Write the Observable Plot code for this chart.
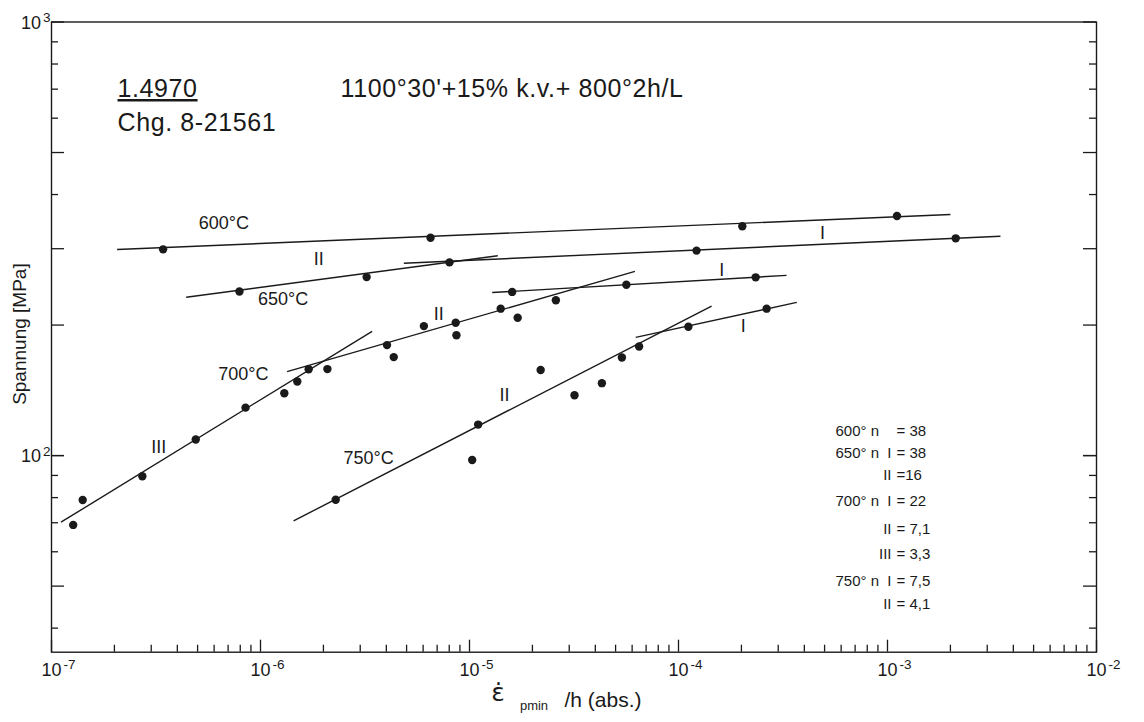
<!DOCTYPE html>
<html><head><meta charset="utf-8">
<script src="https://cdn.jsdelivr.net/npm/d3@7"></script>
<script src="https://cdn.jsdelivr.net/npm/@observablehq/plot@0.6"></script>
<style>body{margin:0;background:#fff;} #chart svg{display:block;}</style>
</head><body><div id="chart"></div>
<script>
// ---- measured creep data (strain rate 1/h, stress MPa) ----
const t600x = [3.42e-7, 6.51e-6, 2.02e-4, 1.11e-3];
const t600y = [299, 318, 338, 357];
const t650x = [7.93e-7, 3.22e-6, 8.02e-6, 1.22e-4, 2.12e-3];
const t650y = [239, 258, 279, 297, 317];
const t700x = [1.27e-7, 1.41e-7, 2.72e-7, 4.90e-7, 8.48e-7, 1.30e-6, 1.50e-6, 1.70e-6, 2.09e-6, 4.03e-6, 4.34e-6, 6.05e-6, 8.59e-6, 8.66e-6, 1.41e-5, 1.70e-5, 2.59e-5, 1.60e-5, 5.63e-5, 2.34e-4];
const t700y = [69.2, 79.0, 89.6, 108.9, 129.0, 139.2, 148.2, 158.2, 158.3, 179.8, 168.7, 198.9, 202.4, 189.5, 218.2, 207.9, 228.2, 238.5, 247.7, 257.7];
const t750x = [2.29e-6, 1.03e-5, 1.10e-5, 2.19e-5, 3.18e-5, 4.30e-5, 5.36e-5, 6.48e-5, 1.115e-4, 2.64e-4];
const t750y = [79.1, 97.7, 117.9, 157.6, 137.8, 146.9, 168.3, 178.5, 198.2, 218.2];

// ---- fitted Norton lines (end points) ----
const fitName = ["600 n", "650 II", "650 I", "700 III", "700 II", "700 I", "750 II", "750 I"];
const fitX1 = [2.06e-7, 4.41e-7, 4.85e-6, 1.11e-7, 1.34e-6, 1.284e-5, 1.44e-6, 6.24e-5];
const fitY1 = [298.7, 231.8, 277.7, 70.2, 156.2, 237.7, 70.7, 187.4];
const fitX2 = [2.0e-3, 1.366e-5, 3.47e-3, 3.42e-6, 6.19e-5, 3.29e-4, 1.44e-4, 3.68e-4];
const fitY2 = [359.7, 288.9, 320.6, 193.5, 266.0, 260.4, 221.3, 225.6];

// ---- curve annotations ----
const curveText = ["600°C", "II", "650°C", "I", "II", "700°C", "III", "I", "750°C", "II", "I"];
const curveX = [6.68e-7, 1.90e-6, 1.284e-6, 4.89e-4, 7.13e-6, 8.27e-7, 3.26e-7, 1.61e-4, 3.29e-6, 1.47e-5, 2.04e-4];
const curveY = [343.5, 284.2, 229.9, 325.2, 211.5, 153.8, 104.5, 267.2, 98.6, 137.8, 198.8];

// ---- Norton exponent table ----
const legendTemp = ["600° n", "650° n", "", "700° n", "", "", "750° n", ""];
const legendStage = ["", "I", "II", "I", "II", "III", "I", "II"];
const legendN = ["= 38", "= 38", "=16", "= 22", "= 7,1", "= 3,3", "= 7,5", "= 4,1"];
const legendRowY = [113.8, 101.2, 90.3, 78.5, 67.7, 59.1, 51.3, 45.5];
const legendColX = [5.64e-4, 1.045e-3, 1.104e-3];

// ---- axes & titles ----
const xDecades = [1e-7, 1e-6, 1e-5, 1e-4, 1e-3, 1e-2];
const xTickLabels = ["10^-7", "10^-6", "10^-5", "10^-4", "10^-3", "10^-2"];
const yDecades = [100, 1000];
const yTickLabels = ["10^2", "10^3"];
const titleMaterial = "1.4970";
const titleCharge = "Chg. 8-21561";
const titleTreatment = "1100°30'+15% k.v.+ 800°2h/L";
const yLabel = "Spannung [MPa]";

// tick generation for log axes
const xMinor = [];
for (let e = -7; e < -2; e++) for (let m = 2; m <= 9; m++) xMinor.push(m * 10 ** e);
const yMinor = [], yLong = [];
for (const dec of [10, 100]) for (let m = 1; m <= 10; m++) {
  const v = m * dec;
  if (v < 35.2 || v > 1000) continue;
  if ([1, 2, 3, 5, 10].includes(m)) yLong.push(v); else yMinor.push(v);
}

const points = [
  ...t600x.map((x, i) => ({x, y: t600y[i], T: "600"})),
  ...t650x.map((x, i) => ({x, y: t650y[i], T: "650"})),
  ...t700x.map((x, i) => ({x, y: t700y[i], T: "700"})),
  ...t750x.map((x, i) => ({x, y: t750y[i], T: "750"}))
];
const fits = fitName.map((n, i) => ({n, x1: fitX1[i], y1: fitY1[i], x2: fitX2[i], y2: fitY2[i]}));
const curveLabels = curveText.map((t, i) => ({t, x: curveX[i], y: curveY[i]}));
const rows = legendRowY.map((y, i) => ({y, a: legendTemp[i], b: legendStage[i], c: legendN[i]}));

const W = 1144, H = 722, mL = 51, mR = 48, mT = 21.5, mB = 70.3;
const fw = W - mL - mR, fh = H - mT - mB;
const ink = "#1a1a1a";
const font = "'Liberation Sans', Arial, Helvetica, sans-serif";

const plot = Plot.plot({
  width: W, height: H,
  marginLeft: mL, marginRight: mR, marginTop: mT, marginBottom: mB,
  style: {fontFamily: font, background: "#fff", color: ink},
  x: {type: "log", domain: [1e-7, 1e-2], axis: null},
  y: {type: "log", domain: [35.2, 1000], axis: null},
  marks: [
    Plot.frame({stroke: ink, strokeWidth: 1.4}),
    // inward ticks left and right
    Plot.ruleY(yMinor, {y: d => d, insetRight: fw - 7, stroke: ink, strokeWidth: 1.3}),
    Plot.ruleY(yLong, {y: d => d, insetRight: fw - 13, stroke: ink, strokeWidth: 1.3}),
    Plot.ruleY(yMinor, {y: d => d, insetLeft: fw - 7, stroke: ink, strokeWidth: 1.3}),
    Plot.ruleY(yLong, {y: d => d, insetLeft: fw - 13, stroke: ink, strokeWidth: 1.3}),
    // inward ticks bottom
    Plot.ruleX(xMinor, {x: d => d, insetTop: fh - 7, stroke: ink, strokeWidth: 1.3}),
    Plot.ruleX(xDecades, {x: d => d, insetTop: fh - 12, stroke: ink, strokeWidth: 1.3}),
    // tick labels
    Plot.text(xDecades, {x: d => d, frameAnchor: "bottom", lineAnchor: "middle", dy: 18, dx: 7, text: (d, i) => xTickLabels[i], fontSize: 18, fill: ink}),
    Plot.text(yDecades, {y: d => d, frameAnchor: "left", lineAnchor: "middle", dx: -1, dy: 1, textAnchor: "end", text: (d, i) => yTickLabels[i], fontSize: 18, fill: ink}),
    // axis labels
    Plot.text([yLabel], {frameAnchor: "left", lineAnchor: "middle", textAnchor: "middle", dx: -32, dy: -3, rotate: -90, text: d => d, fontSize: 19, fill: ink}),
    Plot.text(["ε̇"], {frameAnchor: "bottom", lineAnchor: "middle", dx: -76, dy: 41, text: d => d, fontSize: 25, fontFamily: "'DejaVu Sans', sans-serif", fill: ink}),
    Plot.text(["pmin"], {frameAnchor: "bottom", lineAnchor: "middle", dx: -40, dy: 54, text: d => d, fontSize: 13, fill: ink}),
    Plot.text(["/h (abs.)"], {frameAnchor: "bottom", lineAnchor: "middle", dx: 29, dy: 48, text: d => d, fontSize: 21, fill: ink}),
    // header
    Plot.text([titleMaterial], {frameAnchor: "top-left", lineAnchor: "middle", dx: 66, dy: 67, textAnchor: "start", text: d => d, fontSize: 25, fill: ink}),
    Plot.text([titleCharge], {frameAnchor: "top-left", lineAnchor: "middle", dx: 66, dy: 101, textAnchor: "start", text: d => d, fontSize: 25, fill: ink}),
    Plot.text([titleTreatment], {frameAnchor: "top-left", lineAnchor: "middle", dx: 289, dy: 67, textAnchor: "start", text: d => d, fontSize: 25, fill: ink}),
    // fitted lines
    Plot.link(fits, {x1: "x1", y1: "y1", x2: "x2", y2: "y2", stroke: ink, strokeWidth: 1.4}),
    // measured points
    Plot.dot(points, {x: "x", y: "y", r: 4.2, fill: ink, stroke: "none"}),
    // curve annotations
    Plot.text(curveLabels, {x: "x", y: "y", text: "t", fontSize: 18, fill: ink}),
    // exponent table
    Plot.text(rows.filter(r => r.a), {x: legendColX[0], y: "y", text: "a", textAnchor: "start", fontSize: 15, fill: ink}),
    Plot.text(rows.filter(r => r.b), {x: legendColX[1], y: "y", text: "b", textAnchor: "end", fontSize: 15, fill: ink}),
    Plot.text(rows, {x: legendColX[2], y: "y", text: "c", textAnchor: "start", fontSize: 15, fill: ink})
  ]
});

// superscript exponents, letter spacing and underline
d3.select(plot).selectAll("text").each(function () {
  const t = this.textContent;
  const sel = d3.select(this);
  if (t.includes("^")) {
    const [base, exp] = t.split("^");
    sel.text(base);
    sel.append("tspan").attr("dx", "0.15em").attr("dy", "-0.5em").attr("font-size", "0.75em").text(exp);
  }
  if (t === titleMaterial) sel.style("text-decoration", "underline");
  if (t === titleMaterial || t === titleCharge || t === titleTreatment) sel.style("letter-spacing", "0.6px");
});

document.getElementById("chart").append(plot);
</script>
</body></html>
